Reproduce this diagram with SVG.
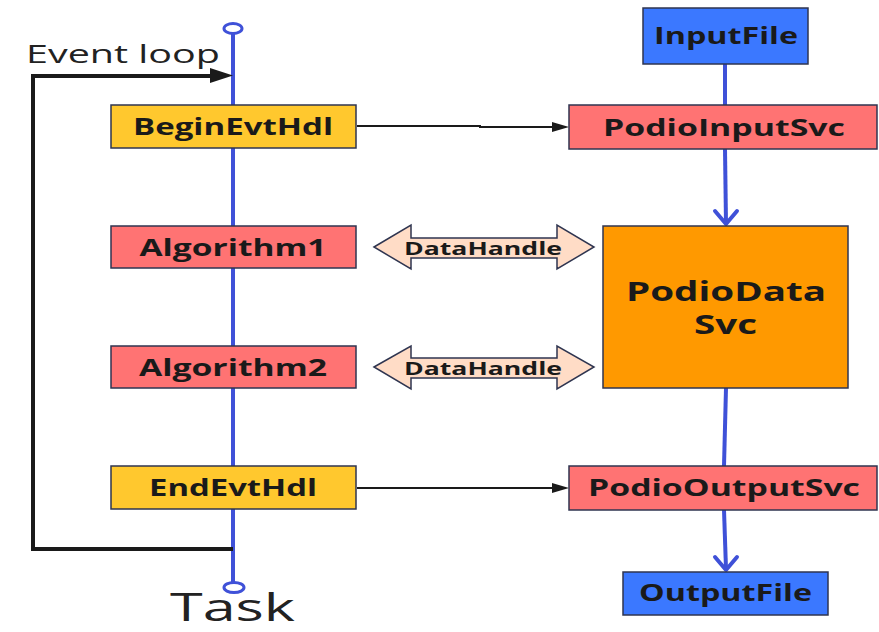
<svg xmlns="http://www.w3.org/2000/svg" width="879" height="632" viewBox="0 0 879 632">
  <style>
    .box { stroke: #2f3550; stroke-width: 1.5; }
    .yellow { fill: #ffc82e; }
    .red { fill: #ff7373; }
    .blue { fill: #3b78ff; }
    .orange { fill: #ff9900; }
    .lbl { font-family: "Open Sans", "Noto Sans", sans-serif; font-weight: bold; font-size: 23px; fill: #1a1a1a; text-anchor: middle; }
    .big { font-size: 26px; }
    .dh { font-family: "Open Sans", "Noto Sans", sans-serif; font-weight: bold; font-size: 18px; fill: #1a1a1a; text-anchor: middle; }
    .plain { font-family: "Open Sans", "Noto Sans", sans-serif; fill: #222; }
    .flow { stroke: #3f51d8; stroke-width: 4; fill: none; }
    .ctl { stroke: #1a1a1a; stroke-width: 2; fill: none; }
    .loop { stroke: #1a1a1a; stroke-width: 4; fill: none; }
    .dharrow { fill: #ffdcc6; stroke: #2f3550; stroke-width: 1.5; }
    .vee { fill: none; stroke: #3f51d8; stroke-width: 4; stroke-linejoin: round; stroke-linecap: round; }
  </style>

  <!-- task timeline with its end markers and labels -->
  <g id="timeline">
    <line class="flow" x1="233" y1="34" x2="233" y2="582"/>
    <ellipse cx="233" cy="28.5" rx="9" ry="5" fill="#fff" stroke="#3f51d8" stroke-width="3"/>
    <ellipse cx="234" cy="587.5" rx="10" ry="5" fill="#fff" stroke="#3f51d8" stroke-width="3"/>
    <text class="plain" x="26" y="63" font-size="25" textLength="194" lengthAdjust="spacingAndGlyphs">Event loop</text>
    <text class="plain" x="170" y="621" font-size="38" textLength="125" lengthAdjust="spacingAndGlyphs">Task</text>
  </g>

  <g id="connectors">
    <!-- event loop return path -->
    <path class="loop" d="M233,549 H33 V76 H212"/>
    <polygon points="210,68 233,75.5 210,83" fill="#1a1a1a"/>
    <!-- begin / end handlers to the podio services -->
    <path class="ctl" d="M357,126 H480 V127 H553"/>
    <polygon points="552,122 569,127 552,132" fill="#1a1a1a"/>
    <path class="ctl" d="M357,488 H553"/>
    <polygon points="552,483 569,488 552,493" fill="#1a1a1a"/>
    <!-- data flow through the services -->
    <line class="flow" x1="725" y1="64" x2="725" y2="105"/>
    <path class="flow" d="M725,149 L726,224"/>
    <path class="vee" d="M715,211 L726,224 L737,211"/>
    <line class="flow" x1="726" y1="388" x2="724" y2="466"/>
    <path class="flow" d="M724,510 L726,569"/>
    <path class="vee" d="M715,557 L726,570 L737,557"/>
  </g>

  <g id="BeginEvtHdl">
    <rect class="box yellow" x="111" y="105" width="245" height="43"/>
    <text class="lbl" x="233" y="135" textLength="200" lengthAdjust="spacingAndGlyphs">BeginEvtHdl</text>
  </g>
  <g id="Algorithm1">
    <rect class="box red" x="111" y="226" width="245" height="42"/>
    <text class="lbl" x="233" y="255.5" textLength="187" lengthAdjust="spacingAndGlyphs">Algorithm1</text>
  </g>
  <g id="Algorithm2">
    <rect class="box red" x="111" y="346" width="245" height="42"/>
    <text class="lbl" x="233" y="375.5" textLength="188" lengthAdjust="spacingAndGlyphs">Algorithm2</text>
  </g>
  <g id="EndEvtHdl">
    <rect class="box yellow" x="111" y="466" width="245" height="43"/>
    <text class="lbl" x="233" y="496" textLength="168" lengthAdjust="spacingAndGlyphs">EndEvtHdl</text>
  </g>

  <g id="InputFile">
    <rect class="box blue" x="643" y="8" width="165" height="56"/>
    <text class="lbl" x="726" y="44" textLength="144" lengthAdjust="spacingAndGlyphs">InputFile</text>
  </g>
  <g id="PodioInputSvc">
    <rect class="box red" x="569" y="105" width="308" height="44"/>
    <text class="lbl" x="724" y="136" textLength="242" lengthAdjust="spacingAndGlyphs">PodioInputSvc</text>
  </g>
  <g id="PodioDataSvc">
    <rect class="box orange" x="603" y="226" width="245" height="162"/>
    <text class="lbl big" x="726" y="301" textLength="200" lengthAdjust="spacingAndGlyphs">PodioData</text>
    <text class="lbl big" x="725.5" y="334" textLength="63" lengthAdjust="spacingAndGlyphs">Svc</text>
  </g>
  <g id="PodioOutputSvc">
    <rect class="box red" x="569" y="466" width="308" height="44"/>
    <text class="lbl" x="724" y="496" textLength="272" lengthAdjust="spacingAndGlyphs">PodioOutputSvc</text>
  </g>
  <g id="OutputFile">
    <rect class="box blue" x="623" y="572" width="205" height="43"/>
    <text class="lbl" x="725.5" y="601" textLength="173" lengthAdjust="spacingAndGlyphs">OutputFile</text>
  </g>

  <g id="DataHandle1">
    <path class="dharrow" d="M374,247 L411,225 V238 H557 V225 L594,247 L557,269 V258 H411 V269 Z"/>
    <text class="dh" x="483" y="254.5" textLength="158" lengthAdjust="spacingAndGlyphs">DataHandle</text>
  </g>
  <g id="DataHandle2">
    <path class="dharrow" d="M374,367 L411,346 V358 H557 V346 L594,367 L557,389 V378 H411 V389 Z"/>
    <text class="dh" x="483" y="374.5" textLength="158" lengthAdjust="spacingAndGlyphs">DataHandle</text>
  </g>
</svg>
